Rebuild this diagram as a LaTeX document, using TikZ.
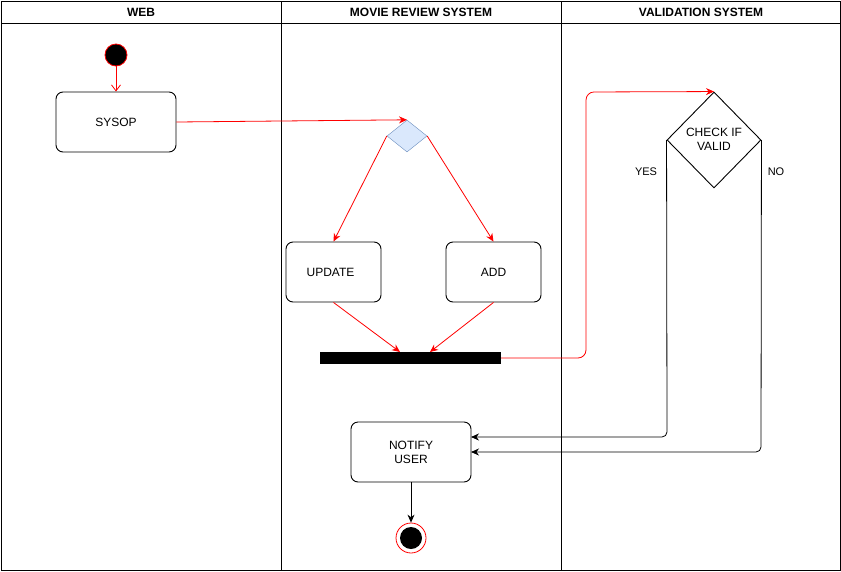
\documentclass[tikz,border=0pt]{standalone}
\usepackage{fontspec}
\setmainfont{Liberation Sans}
\usetikzlibrary{arrows.meta,shapes.geometric}
\begin{document}
\begin{tikzpicture}[x=1pt,y=-1pt,
  lane/.style={draw=black,line width=1pt},
  hdr/.style={font=\fontsize{12}{14}\selectfont\bfseries},
  actbox/.style={draw=black,line width=0.9pt,rounded corners=7pt,minimum width=120pt,minimum height=60pt,align=center,font=\fontsize{12}{14}\selectfont,inner sep=0pt},
  redline/.style={draw=red,line width=0.8pt,-{Stealth[length=8pt,width=7pt]}},
  blkline/.style={draw=black,line width=0.8pt,-{Stealth[length=8pt,width=7pt]}},
  lbl/.style={font=\fontsize{11}{13}\selectfont}
]
\useasboundingbox (0,0) rectangle (841,571);
\fill[white] (0,0) rectangle (841,571);
% lanes
\draw[lane] (1,1) rectangle (840,570);
\draw[lane] (1,23) -- (840,23);
\draw[lane] (281,1) -- (281,570);
\draw[lane] (561,1) -- (561,570);
\node[hdr] (h1) at (141,12) {WEB};
\node[hdr] (h2) at (421,12) {MOVIE REVIEW SYSTEM};
\node[hdr] (h3) at (701,12) {VALIDATION SYSTEM};
% start
\node[circle,fill=black,draw=red,line width=0.8pt,minimum size=22pt,inner sep=0pt] (start) at (116,55) {};
\node[actbox] (sysop) at (116,122) {SYSOP};
\draw[draw=red,line width=0.8pt,-{Straight Barb[length=6pt,width=9pt]}] (start) -- (sysop);
% decision
\node[diamond,draw={rgb,255:red,108;green,142;blue,191},fill={rgb,255:red,218;green,232;blue,252},minimum width=40pt,minimum height=32pt,inner sep=0pt,aspect=1.25] (dec) at (407,136) {};
\draw[redline] (sysop.east) -- (dec.north);
\node[actbox,minimum width=95pt] (upd) at (333.5,272) {UPDATE\hspace*{6pt}};
\node[actbox,minimum width=95pt] (add) at (493.5,272) {ADD};
\draw[redline] (dec.west) -- (upd.north);
\draw[redline] (dec.east) -- (add.north);
% bar
\node[fill=black,minimum width=181pt,minimum height=12pt,inner sep=0pt] (bar) at (410.5,358) {};
\coordinate (barA) at (400,352);
\coordinate (barB) at (430,352);
\draw[redline] (upd.south) -- (barA);
\draw[redline] (add.south) -- (barB);
% check
\node[diamond,draw=black,line width=0.9pt,minimum width=94pt,minimum height=96pt,inner sep=0pt] (chk) at (714,140) {};
\node[lbl,align=center,font=\fontsize{12}{14}\selectfont] (chkt) at (714,139) {CHECK IF\\VALID};
\draw[redline,rounded corners=8pt] (bar.east) -- (586,358) -- (586,92) -- (chk.north);
% notify
\node[actbox] (notify) at (411,452) {NOTIFY\\USER};
\coordinate (nA) at (471,437);
\coordinate (nB) at (471,452);
\draw[blkline,rounded corners=5pt] (chk.west) -- (667,437) -- (nA);
\draw[blkline,rounded corners=5pt] (chk.east) -- (761,452) -- (nB);
\node[lbl] (yes) at (646,172) {YES};
\node[lbl] (no) at (776,172) {NO};
% end
\node[circle,draw=red,line width=0.8pt,minimum size=30pt,inner sep=0pt] (endo) at (411,538) {};
\node[circle,fill=black,minimum size=22pt,inner sep=0pt] (endi) at (411,538) {};
\draw[blkline] (notify.south) -- (endo.north);
\end{tikzpicture}
\end{document}
